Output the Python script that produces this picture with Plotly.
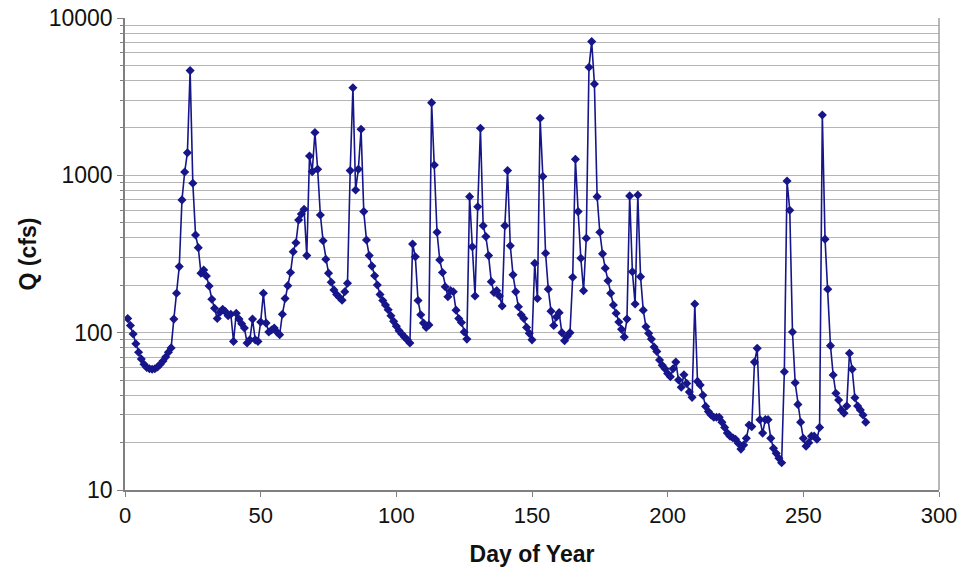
import plotly.graph_objects as go

days = list(range(1, 274))

q_cfs = [
    123, 111, 98, 85, 75, 68, 63, 60, 59, 58.5,
    59, 60.5, 63, 66, 70, 75, 80, 122, 178, 263,
    698, 1050, 1393, 4630, 891, 418, 347, 239, 250, 229,
    198, 163, 143, 123, 135, 141, 136, 128, 131, 88,
    133, 122, 114, 107, 86, 90, 122, 90, 88, 117,
    178, 115, 101, 104, 107, 101, 97, 131, 165, 199,
    241, 327, 373, 520, 568, 609, 309, 1328, 1056, 1870,
    1094, 560, 384, 293, 239, 209, 187, 175, 168, 161,
    182, 206, 1072, 3600, 807, 1094, 1963, 588, 388, 309,
    265, 230, 201, 175, 160, 150, 140, 128, 118, 110,
    103, 98, 94, 90, 86, 366, 304, 160, 130, 115,
    108, 112, 2898, 1164, 435, 290, 241, 196, 169, 185,
    182, 139, 123, 116, 101, 91, 732, 352, 171, 632,
    1992, 479, 408, 309, 211, 180, 185, 171, 148, 479,
    1072, 357, 233, 182, 146, 130, 123, 108, 99, 90,
    276, 165, 2306, 982, 320, 189, 137, 111, 126, 134,
    100, 89, 95, 100, 225, 1266, 588, 297, 185, 398,
    4866, 7080, 3810, 732, 435, 317, 257, 214, 178, 150,
    133, 117, 105, 94, 122, 740, 244, 152, 750, 227,
    139, 109, 99, 91, 81, 76, 67, 62, 59, 55,
    52.5, 59, 65, 50, 45, 54, 47.6, 42, 38.8, 152,
    49, 46.5, 40, 34, 31.5, 30, 29, 29, 29, 27,
    25, 23, 22, 21.5, 21, 19.8, 18.2, 19.3, 21.3, 25.9,
    25.3, 65, 79.5, 28, 23, 28, 28, 21.3, 18.4, 17.1,
    15.9, 14.9, 56.5, 920, 600, 101, 48, 35, 27, 21.3,
    19, 20, 22, 22, 21, 25, 2420, 393, 189, 82.7,
    53.8, 41.2, 37.3, 32.3, 30.8, 34.2, 74, 58.5, 38.6, 34.2,
    32.3, 30, 27,
]

y_tick_vals = [10, 100, 1000, 10000]
y_tick_text = ["10", "100", "1000", "10000"]
x_tick_vals = [0, 50, 100, 150, 200, 250, 300]

minor_vals = [m * d for d in (10, 100, 1000) for m in range(2, 10)]

navy = "#16168a"
grid = "#b5b5b5"

fig = go.Figure()
fig.add_trace(go.Scatter(
    x=days, y=q_cfs, mode="lines+markers",
    line=dict(color=navy, width=1.6),
    marker=dict(symbol="diamond", size=7, color=navy),
    showlegend=False,
    cliponaxis=False,
))

font_family = "Liberation Sans, Arial, sans-serif"

fig.update_layout(
    width=959, height=575,
    margin=dict(l=125, r=20, t=18, b=85, autoexpand=False),
    paper_bgcolor="white", plot_bgcolor="white",
    font=dict(family=font_family, size=23, color="#111111"),
    xaxis=dict(
        range=[0, 300], tickvals=x_tick_vals,
        tickfont=dict(size=22),
        showgrid=False, zeroline=False,
        showline=True, linecolor="#808080", linewidth=1.5,
        ticks="outside", ticklen=5, tickcolor="#808080",
        automargin=False, ticklabeloverflow="allow",
        title=dict(text="<b>Day of Year</b>", font=dict(size=23), standoff=19),
    ),
    yaxis=dict(
        type="log", range=[1, 4],
        tickvals=y_tick_vals, ticktext=y_tick_text,
        tickfont=dict(size=23),
        showgrid=True, gridcolor=grid, gridwidth=1,
        zeroline=False,
        showline=True, linecolor="#808080", linewidth=1.5,
        ticks="outside", ticklen=6, tickcolor="#808080",
        automargin=False, ticklabeloverflow="allow",
        minor=dict(tickvals=minor_vals, showgrid=True, gridcolor=grid, gridwidth=1,
                   ticks="outside", ticklen=3, tickcolor="#808080"),
        title=dict(text="<b>Q (cfs)</b>", font=dict(size=23), standoff=6),
    ),
)

# right border of plot area
fig.add_shape(type="line", xref="paper", yref="paper", x0=1, x1=1, y0=0, y1=1,
              line=dict(color="#a0a0a0", width=1.5))

fig.write_html("out.html",
               config={"displayModeBar": False},
               post_script="document.body.style.margin='0';document.body.style.padding='0';")
